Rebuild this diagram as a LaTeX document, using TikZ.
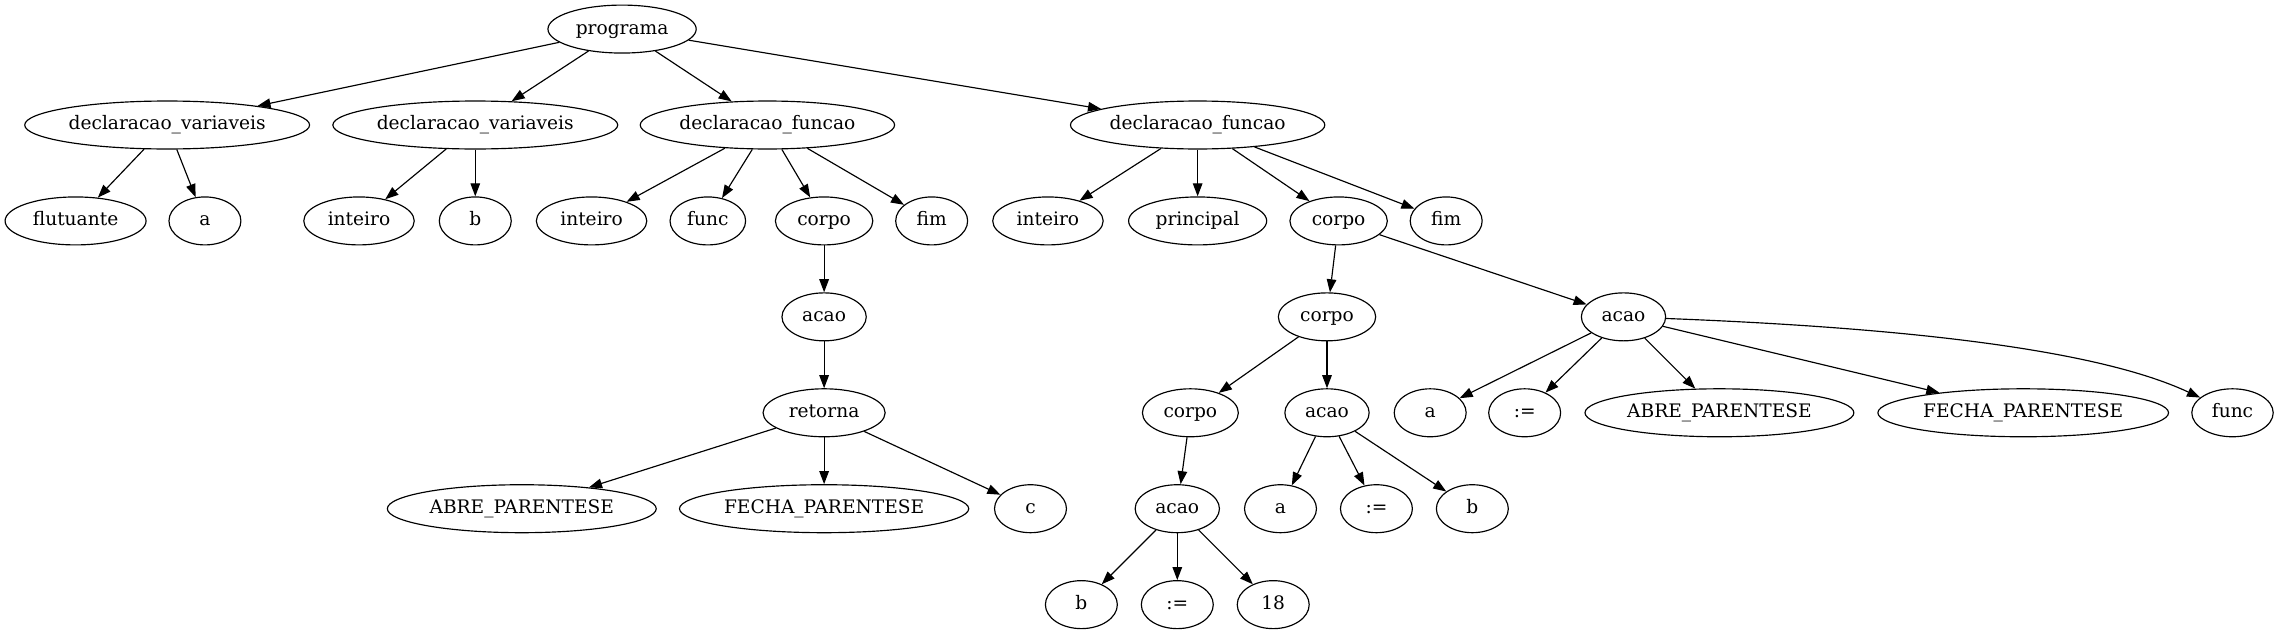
\documentclass[tikz,border=0pt]{standalone}
\usepackage{fontspec}
\setmainfont{DejaVu Serif}
\usetikzlibrary{arrows.meta,shapes.geometric}
\tikzset{
  nd/.style={draw, ellipse, line width=0.8pt, minimum height=33pt, minimum width=49.5pt, inner sep=0pt, text height=9pt, text depth=2.2pt, font=\fontsize{12.8}{14}\selectfont},
  arr/.style={line width=0.8pt, -{Triangle[length=9pt,width=6.6pt]}}
}
\begin{document}
\begin{tikzpicture}[x=1pt,y=1pt]
\useasboundingbox (0,0) rectangle (1568,-437);
% rank 0
\node[nd, minimum width=102pt] (programa) at (428,-20) {programa};
% rank 1
\node[nd, minimum width=196pt] (dv1) at (115,-86) {declaracao\_variaveis};
\node[nd, minimum width=196pt] (dv2) at (327,-86) {declaracao\_variaveis};
\node[nd, minimum width=175pt] (df1) at (528,-86) {declaracao\_funcao};
\node[nd, minimum width=175pt] (df2) at (824,-86) {declaracao\_funcao};
% rank 2
\node[nd, minimum width=97pt] (flut) at (52,-152) {flutuante};
\node[nd] (a1) at (141,-152) {a};
\node[nd, minimum width=76pt] (int1) at (247,-152) {inteiro};
\node[nd] (b1) at (327,-152) {b};
\node[nd, minimum width=76pt] (int2) at (407,-152) {inteiro};
\node[nd, minimum width=52pt] (func1) at (487,-152) {func};
\node[nd, minimum width=67pt] (corpo1) at (567,-152) {corpo};
\node[nd] (fim1) at (641,-152) {fim};
\node[nd, minimum width=76pt] (int3) at (721,-152) {inteiro};
\node[nd, minimum width=95pt] (princ) at (824,-152) {principal};
\node[nd, minimum width=67pt] (corpo2) at (921,-152) {corpo};
\node[nd] (fim2) at (995,-152) {fim};
% rank 3
\node[nd, minimum width=58pt] (acao1) at (567,-218) {acao};
\node[nd, minimum width=67pt] (corpo3) at (913,-218) {corpo};
\node[nd, minimum width=58pt] (acao2) at (1117,-218) {acao};
% rank 4
\node[nd, minimum width=84pt] (retorna) at (567,-284) {retorna};
\node[nd, minimum width=66pt] (corpo4) at (819,-284) {corpo};
\node[nd, minimum width=58pt] (acao3) at (913,-284) {acao};
\node[nd] (a2) at (984,-284) {a};
\node[nd] (as2) at (1049,-284) {:=};
\node[nd, minimum width=185pt] (abre2) at (1183,-284) {ABRE\_PARENTESE};
\node[nd, minimum width=200pt] (fecha2) at (1392,-284) {FECHA\_PARENTESE};
\node[nd, minimum width=56pt] (func2) at (1536,-284) {func};
% rank 5
\node[nd, minimum width=185pt] (abre1) at (359,-350) {ABRE\_PARENTESE};
\node[nd, minimum width=199pt] (fecha1) at (567,-350) {FECHA\_PARENTESE};
\node[nd] (c) at (709,-350) {c};
\node[nd, minimum width=58pt] (acao4) at (810,-350) {acao};
\node[nd] (a3) at (881,-350) {a};
\node[nd] (as3) at (947,-350) {:=};
\node[nd] (b2) at (1013,-350) {b};
% rank 6
\node[nd] (b3) at (744,-416) {b};
\node[nd] (as4) at (810,-416) {:=};
\node[nd] (n18) at (876,-416) {18};
% edges
\draw[arr] (programa) -- (dv1);
\draw[arr] (programa) -- (dv2);
\draw[arr] (programa) -- (df1);
\draw[arr] (programa) -- (df2);
\draw[arr] (dv1) -- (flut);
\draw[arr] (dv1) -- (a1);
\draw[arr] (dv2) -- (int1);
\draw[arr] (dv2) -- (b1);
\draw[arr] (df1) -- (int2);
\draw[arr] (df1) -- (func1);
\draw[arr] (df1) -- (corpo1);
\draw[arr] (df1) -- (fim1);
\draw[arr] (df2) -- (int3);
\draw[arr] (df2) -- (princ);
\draw[arr] (df2) -- (corpo2);
\draw[arr] (df2) -- (fim2);
\draw[arr] (corpo1) -- (acao1);
\draw[arr] (acao1) -- (retorna);
\draw[arr] (retorna) -- (abre1);
\draw[arr] (retorna) -- (fecha1);
\draw[arr] (retorna) -- (c);
\draw[arr] (corpo2) -- (corpo3);
\draw[arr] (corpo2) -- (acao2);
\draw[arr] (corpo3) -- (corpo4);
\draw[arr] (corpo3) -- (acao3);
\draw[arr] (corpo4) -- (acao4);
\draw[arr] (acao4) -- (b3);
\draw[arr] (acao4) -- (as4);
\draw[arr] (acao4) -- (n18);
\draw[arr] (acao3) -- (a3);
\draw[arr] (acao3) -- (as3);
\draw[arr] (acao3) -- (b2);
\draw[arr] (acao2) -- (a2);
\draw[arr] (acao2) -- (as2);
\draw[arr] (acao2) -- (abre2);
\draw[arr] (acao2) -- (fecha2);
\draw[arr] (acao2) .. controls (1300,-225) and (1440,-239) .. (func2);
\end{tikzpicture}
\end{document}
